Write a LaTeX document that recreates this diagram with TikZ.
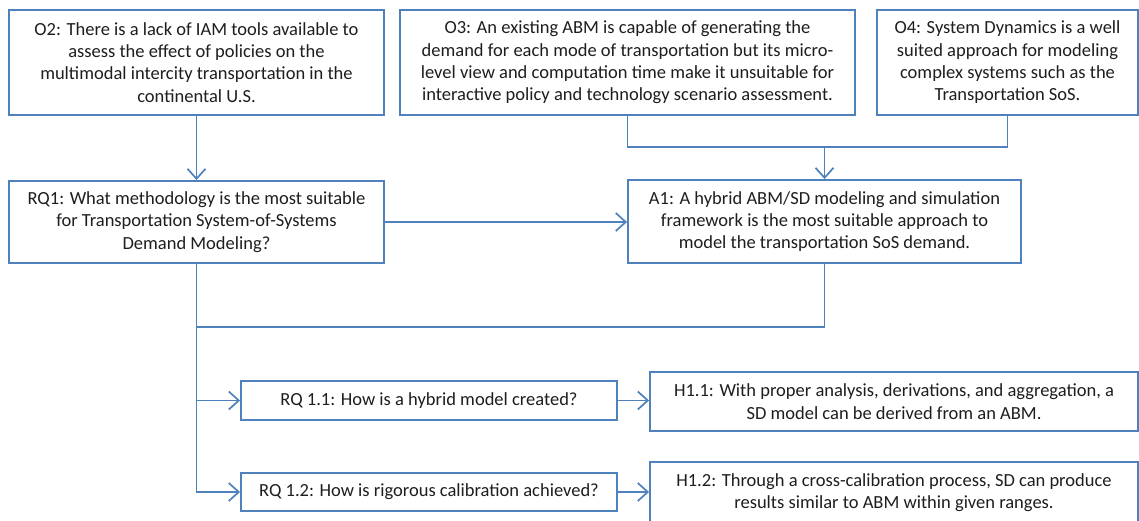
\documentclass[tikz,border=0pt]{standalone}
\usepackage{fontspec}
\setmainfont{Carlito}
\usetikzlibrary{arrows.meta}
\definecolor{ln}{HTML}{4F81BD}
\definecolor{tx}{HTML}{1E1E1E}
\tikzset{
  box/.style={draw=ln, line width=1.9pt, inner sep=0pt, align=center,
    font=\fontsize{18.5}{22.3}\selectfont, text=tx},
  conn/.style={draw=ln, line width=1.9pt},
  arr/.style={conn, -{Straight Barb[length=10pt,width=18pt,line width=1.7pt]}}
}
\newcommand\mybx[6]{\node[box, minimum width={(#4-#2)*1pt}, minimum height={(#5-#3)*1pt}] (#1) at ({(#2+#4)/2},{(#3+#5)/2}) {#6};}
\begin{document}
\begin{tikzpicture}[x=1pt,y=-1pt]
\useasboundingbox[fill=white] (0,0) rectangle (1139,521);
\mybx{O2}{9}{10}{384}{115}{O2: There is a lack of IAM tools available to\\assess the effect of policies on the\\multimodal intercity transportation in the\\continental U.S.}
\mybx{O3}{400}{10}{855}{115}{O3: An existing ABM is capable of generating the\\demand for each mode of transportation but its micro-\\level view and computation time make it unsuitable for\\interactive policy and technology scenario assessment.}
\mybx{O4}{877}{10}{1138}{115}{O4: System Dynamics is a well\\suited approach for modeling\\complex systems such as the\\Transportation SoS.}
\mybx{RQ1}{9}{181}{384}{263}{RQ1: What methodology is the most suitable\\for Transportation System-of-Systems\\Demand Modeling?}
\mybx{A1}{628}{180}{1021}{263}{A1: A hybrid ABM/SD modeling and simulation\\framework is the most suitable approach to\\model the transportation SoS demand.}
\mybx{RQ11}{241}{381}{617}{420}{RQ 1.1: How is a hybrid model created?}
\mybx{RQ12}{241}{473}{617}{511}{RQ 1.2: How is rigorous calibration achieved?}
\mybx{H11}{650}{372}{1138}{431}{H1.1: With proper analysis, derivations, and aggregation, a\\SD model can be derived from an ABM.}
\mybx{H12}{650}{462}{1138}{524}{H1.2: Through a cross-calibration process, SD can produce\\results similar to ABM within given ranges.}
\coordinate (j1) at (824.5,147);
\coordinate (j2) at (824.5,327);
\draw[arr] (O2.south) -- (RQ1.north);
\draw[conn] (O3.south) |- (j1) -| (O4.south);
\draw[arr] (j1) -- (A1.north);
\draw[arr] (RQ1.east) -- (RQ1.east -| A1.west);
\draw[conn] (A1.south) -- (j2) -| (RQ1.south);
\draw[arr] (RQ1.south) |- (RQ11.west);
\draw[arr] (RQ1.south) |- (RQ12.west);
\draw[arr] (RQ11.east) -- (RQ11.east -| H11.west);
\draw[arr] (RQ12.east) -- (RQ12.east -| H12.west);
\end{tikzpicture}
\end{document}
